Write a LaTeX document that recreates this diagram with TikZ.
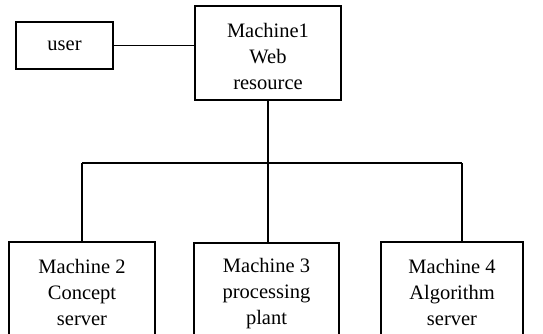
\documentclass[tikz,border=0pt]{standalone}
\usepackage{fontspec}
\setmainfont{Liberation Serif}
\begin{document}
\begin{tikzpicture}[x=1pt,y=-1pt,
  box/.style={draw,line width=1.3pt,inner sep=0pt,align=center,
    font=\fontsize{20.5}{26}\selectfont},
  wire/.style={line width=1.3pt}]
\useasboundingbox (0,0) rectangle (543,334);
\node[box,minimum width=97pt,minimum height=47pt] (user) at (64.5,45.5) {user};
\node[box,minimum width=146pt,minimum height=94pt] (m1) at (268,53) {};
\node[align=center,inner sep=0pt,font=\fontsize{20.5}{26}\selectfont] (m1t) at (268,56) {Machine1\\Web\\resource};
\node[box,minimum width=146pt,minimum height=100pt] (m2) at (82,292) {Machine 2\\Concept\\server};
\node[box,minimum width=145pt,minimum height=100pt] (m3) at (266.5,293) {};
\node[align=center,inner sep=0pt,font=\fontsize{20.5}{26}\selectfont] (m3t) at (266.5,294) {Machine 3\\processing\\plant};
\node[box,minimum width=142pt,minimum height=100pt] (m4) at (452,292) {Machine 4\\Algorithm\\server};
\coordinate (bus) at (268,163);
\coordinate (busr) at (462,163);
\draw[wire] (user.east) -- (user.east -| m1.west);
\draw[wire] (m1.south) -- (bus);
\draw[wire] (bus -| m2.north) -- (busr);
\draw[wire] (bus -| m2.north) -- (m2.north);
\draw[wire] (bus) -- (bus |- m3.north);
\draw[wire] (busr) -- (busr |- m4.north);
\end{tikzpicture}
\end{document}
